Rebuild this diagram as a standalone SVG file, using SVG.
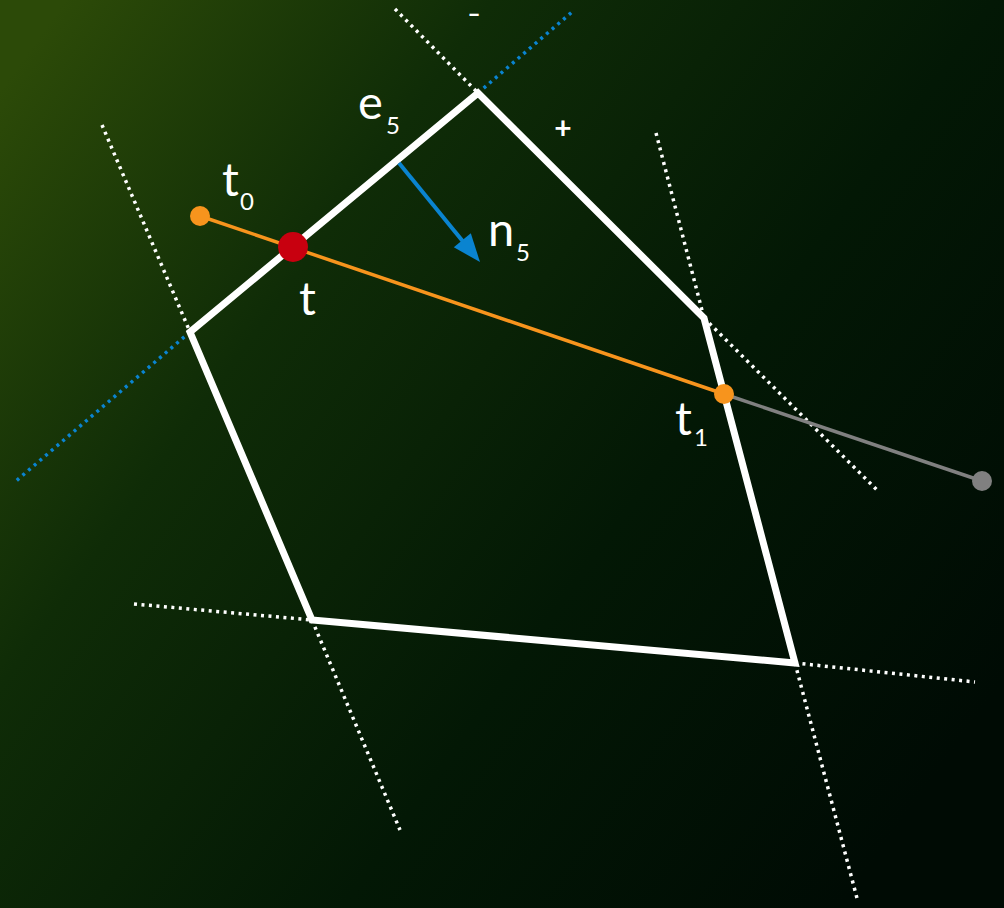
<svg xmlns="http://www.w3.org/2000/svg" width="1004" height="908" viewBox="0 0 1004 908">
<defs>
<linearGradient id="bg" x1="0" y1="0.1" x2="1" y2="0.75">
<stop offset="0" stop-color="#2c4a08"/>
<stop offset="0.3" stop-color="#0f2c07"/>
<stop offset="0.65" stop-color="#031805"/>
<stop offset="1" stop-color="#000b04"/>
</linearGradient>
<style>
.dot{fill:none;stroke:#fff;stroke-width:3.5;stroke-dasharray:3 4.5}
.dotb{fill:none;stroke:#0a84d0;stroke-width:3.5;stroke-dasharray:3 4.5}
.lbl{font-family:Lato,"Noto Sans",sans-serif;fill:#fff}
.big{font-size:47px}
.sub{font-size:24px}
</style>
</defs>
<rect width="1004" height="908" fill="url(#bg)"/>
<g id="extensions">
<line class="dotb" x1="478" y1="93" x2="572" y2="12"/>
<line class="dotb" x1="190" y1="332" x2="16" y2="481"/>
<line class="dot" x1="395" y1="9" x2="478" y2="93"/>
<line class="dot" x1="102" y1="125" x2="190" y2="332"/>
<line class="dot" x1="656" y1="133" x2="704" y2="318"/>
<line class="dot" x1="704" y1="318" x2="877" y2="490"/>
<line class="dot" x1="134" y1="604" x2="312" y2="620"/>
<line class="dot" x1="312" y1="620" x2="400" y2="830"/>
<line class="dot" x1="795" y1="663" x2="975" y2="682"/>
<line class="dot" x1="795" y1="663" x2="858" y2="902"/>
</g>
<g id="polygon">
<polygon points="478,93 704,318 795,663 312,620 190,332" fill="none" stroke="#fff" stroke-width="7" stroke-linejoin="miter"/>
</g>
<g id="connectors">
<line x1="724" y1="394" x2="982" y2="481" stroke="#808080" stroke-width="3.5"/>
<line x1="200" y1="216" x2="724" y2="394" stroke="#f7941d" stroke-width="3.5"/>
<line x1="399" y1="163" x2="465" y2="244" stroke="#0a84d0" stroke-width="4"/>
<polygon points="480,262 470.8,233.3 453.8,247.3" fill="#0a84d0"/>
</g>
<g id="points">
<circle id="p-t0" cx="200" cy="216" r="10" fill="#f7941d"/>
<circle id="p-t" cx="293" cy="247" r="15" fill="#c8000f"/>
<circle id="p-t1" cx="724" cy="394" r="10" fill="#f7941d"/>
<circle id="p-end" cx="982" cy="481" r="10" fill="#808080"/>
</g>
<g id="labels">
<text class="lbl big" x="358" y="119">e</text><text class="lbl sub" x="386" y="134">5</text>
<text class="lbl big" x="488" y="246">n</text><text class="lbl sub" x="516" y="261">5</text>
<text class="lbl big" x="222" y="196">t</text><text class="lbl sub" x="240" y="210">0</text>
<text class="lbl big" x="299" y="315">t</text>
<text class="lbl big" x="675" y="435">t</text><text class="lbl sub" x="694" y="446">1</text>
<text class="lbl" transform="translate(474,22) scale(1.6,1)" font-size="22" font-weight="bold" text-anchor="middle">-</text>
<text class="lbl" x="563" y="139" font-size="30" font-weight="bold" text-anchor="middle">+</text>
</g>
</svg>
